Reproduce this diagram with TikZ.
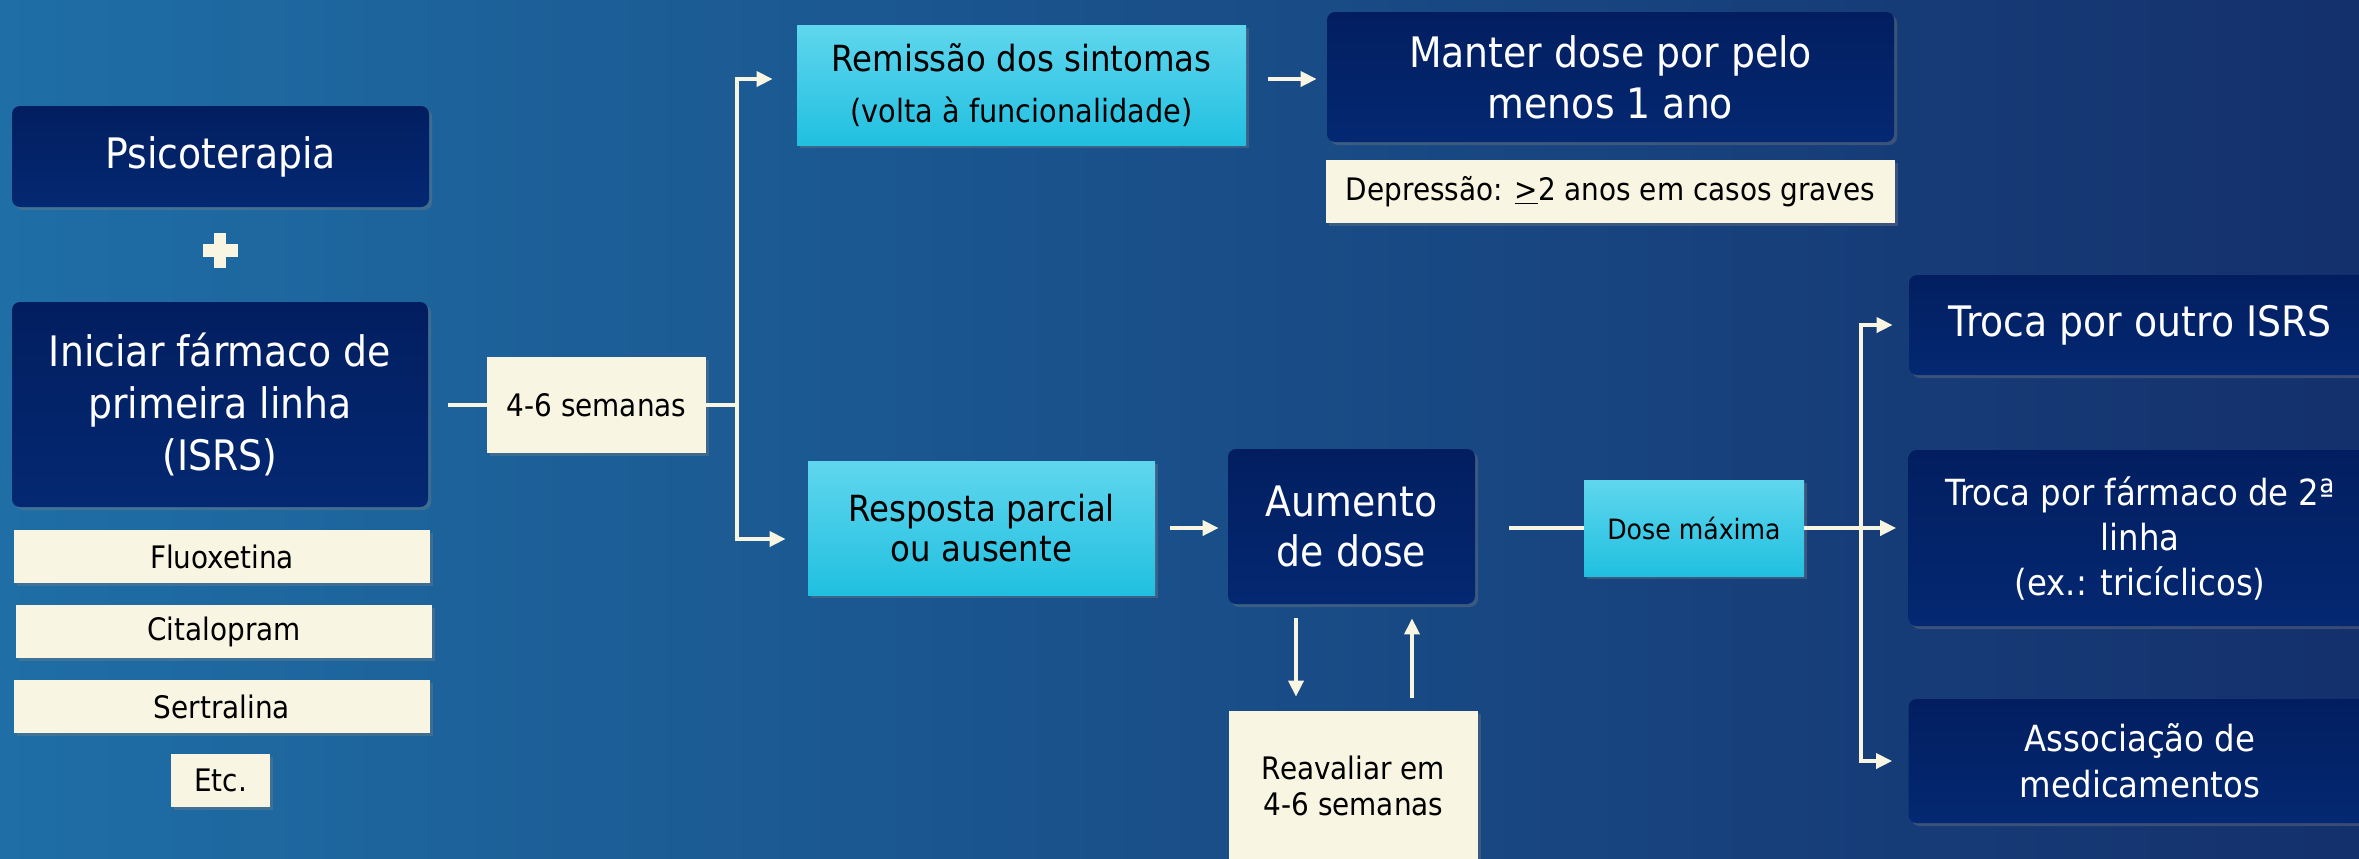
\documentclass[tikz,border=0pt]{standalone}
\usepackage{fontspec}
\setmainfont{DejaVu Sans}[FakeStretch=0.9]
\usetikzlibrary{arrows.meta,shadows}
\definecolor{bgleft}{RGB}{31,110,166}
\definecolor{bgright}{RGB}{20,48,108}
\definecolor{navytop}{RGB}{2,30,96}
\definecolor{navybot}{RGB}{4,40,114}
\definecolor{cyantop}{RGB}{96,214,238}
\definecolor{cyanbot}{RGB}{32,192,224}
\definecolor{cream}{RGB}{248,245,226}
\newcommand{\fsz}[2]{\fontsize{#1}{#2}\selectfont}
\begin{document}
\begin{tikzpicture}[x=0.5pt, y=-0.5pt,
    boxshadow/.style={drop shadow={opacity=0.35, shadow xshift=1.5pt, shadow yshift=-1.5pt}},
    darkbox/.style={boxshadow, rounded corners=4pt, top color=navytop, bottom color=navybot,
      text=white, align=center, inner sep=0pt},
    cyanbox/.style={boxshadow, top color=cyantop, bottom color=cyanbot, text=black,
      align=center, inner sep=0pt},
    creambox/.style={boxshadow, fill=cream, text=black, align=center, inner sep=0pt},
    drugbox/.style={creambox, minimum width=208pt, minimum height=26.5pt, font=\fsz{15.5}{18}},
    wire/.style={draw=cream, line width=1.85pt},
    arr/.style={wire, -{Triangle[length=8pt,width=7.5pt]}}]
  \useasboundingbox (0,0) rectangle (2359,858);
  \clip (0,0) rectangle (2359,858);
  \shade[left color=bgleft, right color=bgright] (0,0) rectangle (2359,858);

  \node[darkbox, minimum width=208.5pt, minimum height=50.5pt, font=\fsz{21}{26}] (psico) at (220.5,156.5) {Psicoterapia};
  \coordinate (plus) at (220,250);
  \fill[cream] ([xshift=-8.75pt,yshift=-3.25pt]plus) rectangle ++(17.5pt,6.5pt);
  \fill[cream] ([xshift=-3pt,yshift=-8.75pt]plus) rectangle ++(6pt,17.5pt);
  \node[darkbox, minimum width=208pt, minimum height=102.5pt, font=\fsz{21}{26}] (iniciar) at (220,404.5)
    {Iniciar fármaco de\\primeira linha\\(ISRS)};
  \node[drugbox] (fluox) at (222,556.5) {Fluoxetina};
  \node[drugbox] (cital) at (224,631.5) {Citalopram};
  \node[drugbox] (sertr) at (222,706.5) {Sertralina};
  \node[drugbox, minimum width=49.5pt] (etc) at (220.5,780.5) {Etc.};

  \node[creambox, minimum width=109.5pt, minimum height=48pt, font=\fsz{15.5}{18}] (semanas) at (596.5,405) {4-6 semanas};
  \coordinate (fork1) at (737,405);

  \node[cyanbox, minimum width=224.5pt, minimum height=60pt, font=\fsz{18}{25.5}] (remissao) at (1021.5,85)
    {Remissão dos sintomas\\{\fsz{16}{25.5}(volta à funcionalidade)}};
  \node[darkbox, minimum width=283.5pt, minimum height=65pt, font=\fsz{21}{25.5}] (manter) at (1610.5,77)
    {Manter dose por pelo\\menos 1 ano};
  \node[creambox, minimum width=284.5pt, minimum height=31.5pt, font=\fsz{15.5}{18}] (depressao) at (1610.5,191.5)
    {Depressão: \underline{>}2 anos em casos graves};

  \node[cyanbox, minimum width=173.5pt, minimum height=67pt, font=\fsz{18}{20}] (resposta) at (981.5,528)
    {Resposta parcial\\ou ausente};
  \node[darkbox, minimum width=123.5pt, minimum height=77.5pt, font=\fsz{21}{25}] (aumento) at (1351.5,526.5)
    {Aumento\\de dose};
  \node[cyanbox, minimum width=110pt, minimum height=48pt, font=\fsz{14}{17}] (dosemax) at (1694,528) {Dose máxima};
  \node[creambox, minimum width=124.5pt, minimum height=75pt, font=\fsz{15.5}{18}] (reavaliar) at (1353.5,786)
    {Reavaliar em\\4-6 semanas};
  \coordinate (fork2) at (1861,528);

  \node[darkbox, minimum width=231pt, minimum height=50pt, font=\fsz{21}{26}] (trocaisrs) at (2140,325)
    {Troca por outro ISRS};
  \node[darkbox, minimum width=231.5pt, minimum height=88pt, font=\fsz{18}{22.5}] (troca2) at (2140,538)
    {Troca por fármaco de 2ª\\linha\\(ex.: tricíclicos)};
  \node[darkbox, minimum width=231.5pt, minimum height=62pt, font=\fsz{18}{23}] (assoc) at (2140,761)
    {Associação de\\medicamentos};

  \draw[wire, shorten <=10pt] (iniciar.east |- semanas.west) -- (semanas.west);
  \draw[wire] (semanas.east) -- (fork1);
  \draw[arr, shorten >=12pt] (fork1) |- ([yshift=3pt]remissao.west);
  \draw[arr, shorten >=11pt] (fork1) |- ([yshift=-5.5pt]resposta.west);
  \draw[arr, shorten <=11pt, shorten >=5pt] ([yshift=3pt]remissao.east) -- ([yshift=3pt]remissao.east -| manter.west);
  \draw[arr, shorten <=7.5pt, shorten >=4.5pt] (resposta.east) -- (resposta.east -| aumento.west);
  \draw[arr, shorten <=7pt, shorten >=7pt] ([xshift=-27.75pt]aumento.south) -- ([xshift=-27.75pt]aumento.south |- reavaliar.north);
  \draw[arr, shorten <=6.5pt, shorten >=7pt] ([xshift=30.25pt]aumento.south |- reavaliar.north) -- ([xshift=30.25pt]aumento.south);
  \draw[wire, shorten <=17pt] (aumento.east |- dosemax.west) -- (dosemax.west);
  \draw[arr, shorten >=6pt] (dosemax.east) -- (dosemax.east -| troca2.west);
  \draw[arr, shorten >=8pt] (fork2) |- (trocaisrs.west);
  \draw[arr, shorten >=8pt] (fork2) |- (assoc.west);
\end{tikzpicture}
\end{document}
